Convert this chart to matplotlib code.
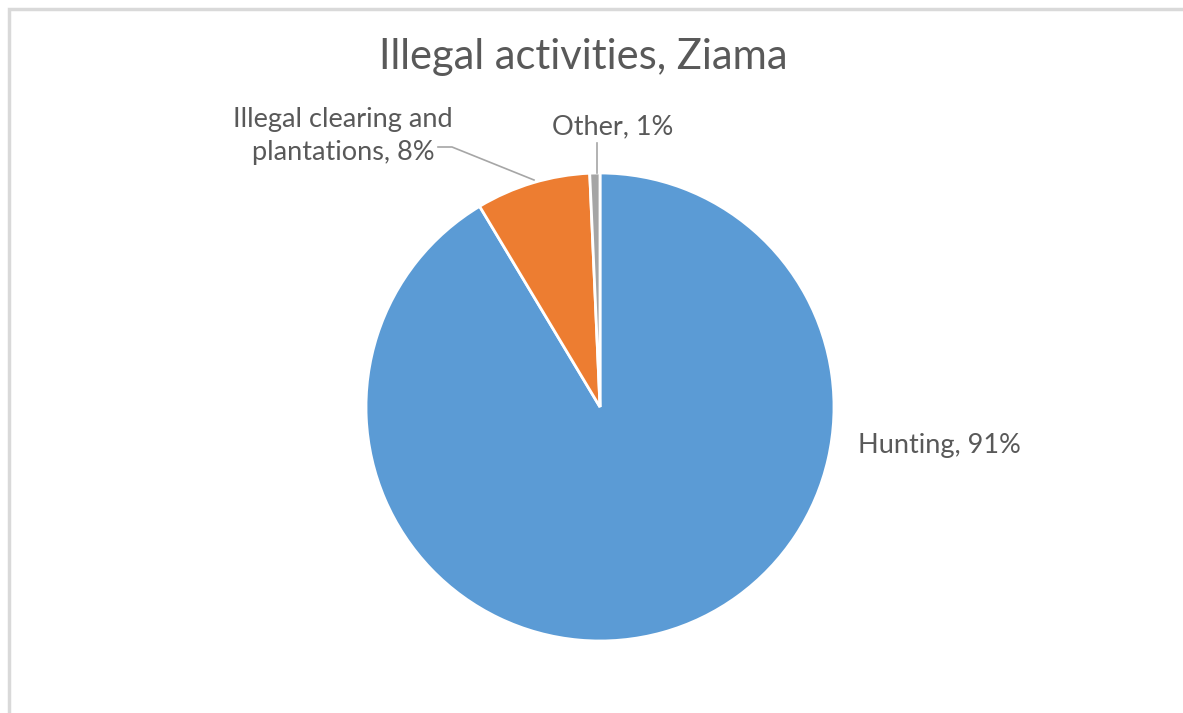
import matplotlib.pyplot as plt

# data
categories = ['Hunting', 'Illegal clearing and\nplantations', 'Other']
shares = [91.4, 7.9, 0.7]
share_labels = ['91%', '8%', '1%']
colors = ['#5B9BD5', '#ED7D31', '#A5A5A5']

W, H = 1183, 713
fig = plt.figure(figsize=(W / 100, H / 100), dpi=100)
ax = fig.add_axes([0, 0, 1, 1])

txt = '#595959'
font = 'Lato'

ax.pie(shares, colors=colors, startangle=90, counterclock=False,
       center=(600, H - 407), radius=234, frame=True,
       wedgeprops=dict(edgecolor='white', linewidth=2))
ax.set_xlim(0, W)
ax.set_ylim(0, H)
ax.set_aspect('equal')
ax.axis('off')

# chart border (top and left visible)
ax.plot([9, 9, W + 5], [-5, H - 9, H - 9], color='#d9d9d9', lw=2.5,
        solid_joinstyle='miter', clip_on=False)

ax.text(583, H - 57, 'Illegal activities, Ziama', ha='center', va='center',
        fontsize=30, color=txt, family=font)

# data labels
ax.text(858, H - 446, f'{categories[0]}, {share_labels[0]}', ha='left',
        va='center', fontsize=19.5, color=txt, family=font)
ax.text(343, H - 136, f'{categories[1]}, {share_labels[1]}', ha='center',
        va='center', fontsize=19.5, color=txt, family=font, linespacing=1.4)
ax.text(613, H - 127, f'{categories[2]}, {share_labels[2]}', ha='center',
        va='center', fontsize=19.5, color=txt, family=font)

# leader lines
ax.plot([438, 452, 534], [H - 147, H - 147, H - 180], color='#a6a6a6', lw=1.2)
ax.plot([597, 597], [H - 143, H - 173], color='#a6a6a6', lw=1.2)

fig.savefig('out.png', dpi=100)
